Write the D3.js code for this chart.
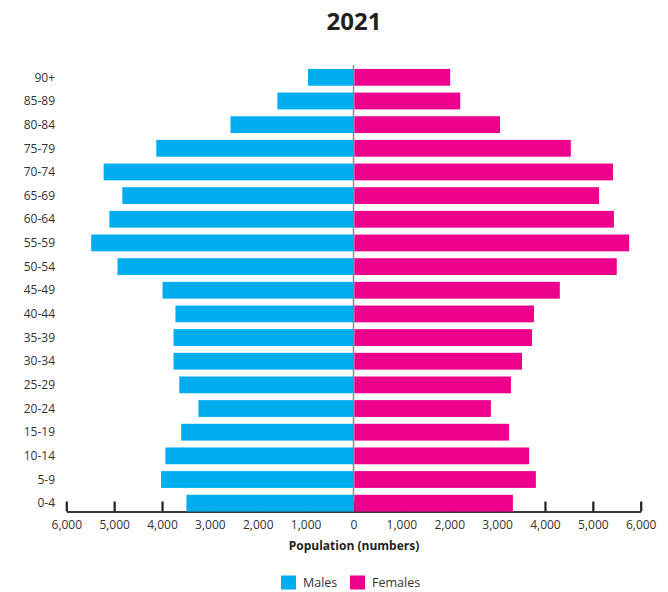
<!DOCTYPE html>
<html><head><meta charset="utf-8">
<script src="https://cdn.jsdelivr.net/npm/d3@7"></script>
<style>body{margin:0;background:#fff;}svg{display:block;font-family:"Open Sans",sans-serif;}</style>
</head><body>
<svg id="chart" width="668" height="592"></svg>
<script>
const title = "2021";
const ageGroups = ["90+","85-89","80-84","75-79","70-74","65-69","60-64","55-59","50-54","45-49","40-44","35-39","30-34","25-29","20-24","15-19","10-14","5-9","0-4"];
const males   = [950,1590,2570,4120,5220,4830,5100,5480,4930,3990,3720,3760,3760,3640,3240,3600,3930,4020,3490];
const females = [2020,2230,3060,4540,5420,5130,5440,5760,5500,4310,3770,3730,3520,3290,2870,3250,3670,3810,3330];
const xTicks = [-6000,-5000,-4000,-3000,-2000,-1000,0,1000,2000,3000,4000,5000,6000];
const seriesNames = ["Males","Females"];
const colors = ["#00AEEF","#EC008C"];

const svg = d3.select("#chart");
const x = d3.scaleLinear().domain([-6000,6000]).range([66.3,640.7]);
const y = d3.scaleBand().domain(ageGroups).range([65.5,515]).paddingInner(0.29).paddingOuter(0.145);

svg.append("text").attr("x",354).attr("y",29.5).attr("text-anchor","middle")
  .attr("font-size",24).attr("font-weight","bold").attr("fill","#231f20").text(title);

// x axis
const axisY = 511.5;
const xAxis = d3.axisBottom(x).tickValues(xTicks).tickSize(0).tickPadding(9)
  .tickFormat(d => d3.format(",")(Math.abs(d)));
const gx = svg.append("g").attr("transform",`translate(0,${axisY})`).call(xAxis);
gx.select(".domain").attr("stroke","#3a3a3a").attr("stroke-width",2);
gx.selectAll(".tick line").remove();
gx.selectAll(".tick").append("line").attr("y1",0).attr("y2",-10).attr("stroke","#231f20").attr("stroke-width",2.2);
gx.selectAll(".tick text").attr("font-size",12).attr("fill","#333").attr("font-family","'Open Sans',sans-serif");

svg.append("text").attr("x",354).attr("y",550).attr("text-anchor","middle")
  .attr("font-size",12).attr("font-weight","bold").attr("fill","#231f20").text("Population (numbers)");

// center line
svg.append("line").attr("x1",x(0)).attr("x2",x(0)).attr("y1",65).attr("y2",axisY)
  .attr("stroke","#8a8a8a").attr("stroke-width",1.5);

// bars
svg.append("g").selectAll("rect").data(ageGroups).join("rect")
  .attr("x",(d,i)=>x(-males[i])).attr("width",(d,i)=>x(0)-x(-males[i]))
  .attr("y",d=>y(d)).attr("height",y.bandwidth()).attr("fill",colors[0]);
svg.append("g").selectAll("rect").data(ageGroups).join("rect")
  .attr("x",x(0)+0.8).attr("width",(d,i)=>x(females[i])-x(0)-0.8)
  .attr("y",d=>y(d)).attr("height",y.bandwidth()).attr("fill",colors[1]);

// y labels
svg.append("g").selectAll("text").data(ageGroups).join("text")
  .attr("x",55).attr("y",d=>y(d)+y.bandwidth()/2).attr("dy","0.35em")
  .attr("text-anchor","end").attr("font-size",12).attr("fill","#333").text(d=>d);

// legend
const legX = [281,350];
seriesNames.forEach((n,i)=>{
  svg.append("rect").attr("x",legX[i]).attr("y",575.5).attr("width",15).attr("height",14).attr("fill",colors[i]);
  svg.append("text").attr("x",legX[i]+22).attr("y",582.5).attr("dy","0.35em")
    .attr("font-size",12.5).attr("fill","#333").text(n);
});
</script>
</body></html>
